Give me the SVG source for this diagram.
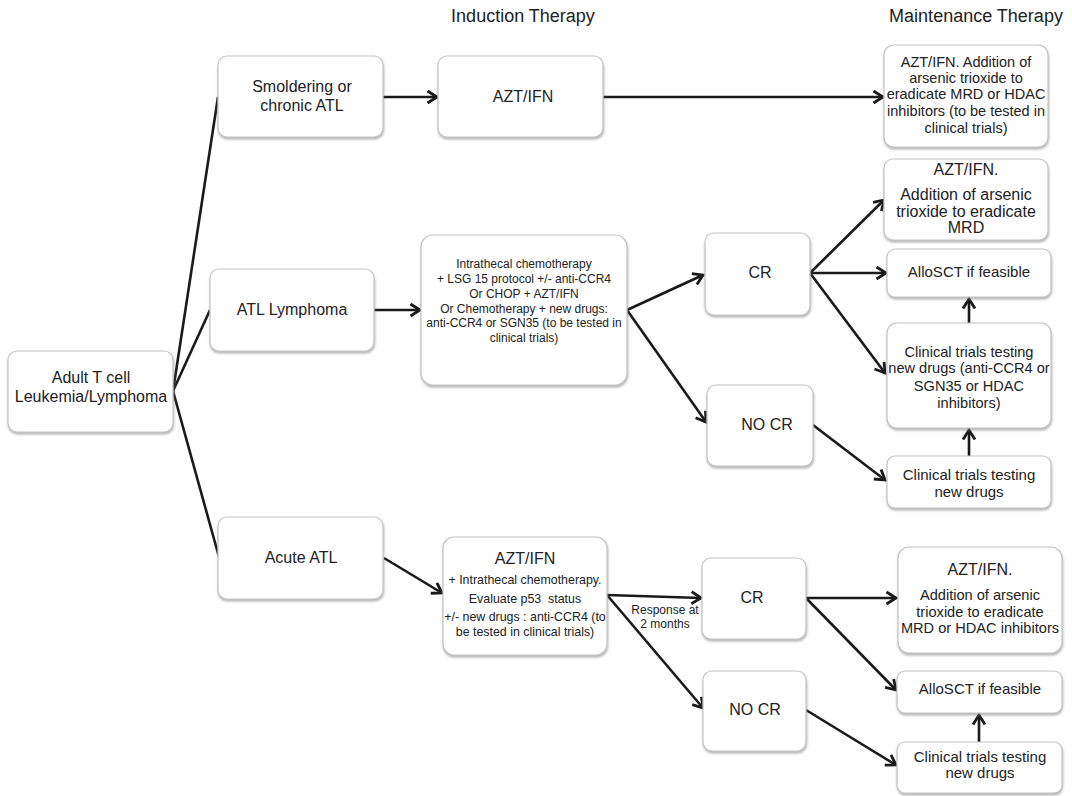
<svg xmlns="http://www.w3.org/2000/svg" width="1072" height="796" viewBox="0 0 1072 796">
  <style>
    text { font-family: "Liberation Sans", Arial, sans-serif; fill: #222; text-anchor: middle; }
    .box { fill: #fff; stroke: #c4c4c4; stroke-width: 1.2; filter: url(#shadow); }
    .head { font-size: 18px; }
    .f16 { font-size: 16px; }
    .f15 { font-size: 15px; }
    .f145 { font-size: 14.5px; }
    .f14 { font-size: 14.6px; }
    .f12 { font-size: 12px; }
    .f125 { font-size: 12.4px; }
    .link { stroke: #1a1a1a; stroke-width: 2.6; fill: none; }
    .arrow { marker-end: url(#chev); }
  </style>
  <defs>
    <filter id="shadow" x="-10%" y="-10%" width="125%" height="130%">
      <feDropShadow dx="0.5" dy="2" stdDeviation="1.3" flood-color="#777" flood-opacity="0.55"/>
    </filter>
    <marker id="chev" markerUnits="userSpaceOnUse" markerWidth="16" markerHeight="16" viewBox="0 0 16 16" refX="13" refY="8" orient="auto">
      <path d="M3.5,2 L13,8 L3.5,14" fill="none" stroke="#1a1a1a" stroke-width="2.8" stroke-linejoin="miter"/>
    </marker>
  </defs>

  <rect width="1072" height="796" fill="#fff"/>

  <!-- column headings -->
  <text class="head" x="523" y="22">Induction Therapy</text>
  <text class="head" x="976" y="22">Maintenance Therapy</text>

  <!-- connectors -->
  <g id="connectors">
    <line class="link" x1="173" y1="391" x2="218" y2="97"/>
    <line class="link" x1="173" y1="391" x2="210" y2="310"/>
    <line class="link" x1="173" y1="391" x2="219" y2="557"/>

    <line class="link arrow" x1="383" y1="97" x2="437" y2="97"/>
    <line class="link arrow" x1="603" y1="97" x2="883" y2="97"/>

    <line class="link arrow" x1="374" y1="310" x2="420" y2="310"/>
    <line class="link arrow" x1="627" y1="310" x2="703" y2="275"/>
    <line class="link arrow" x1="627" y1="310" x2="706" y2="422"/>
    <line class="link arrow" x1="810" y1="273" x2="884" y2="200"/>
    <line class="link arrow" x1="810" y1="273" x2="886" y2="273"/>
    <line class="link arrow" x1="810" y1="273" x2="885" y2="373"/>
    <line class="link arrow" x1="969" y1="323" x2="969" y2="299"/>
    <line class="link arrow" x1="969" y1="456" x2="969" y2="430"/>
    <line class="link arrow" x1="813" y1="425" x2="885" y2="480"/>

    <line class="link arrow" x1="384" y1="558" x2="442" y2="593"/>
    <line class="link arrow" x1="607" y1="595" x2="701" y2="598"/>
    <line class="link arrow" x1="607" y1="595" x2="703" y2="708"/>
    <line class="link arrow" x1="806" y1="598" x2="896" y2="598"/>
    <line class="link arrow" x1="806" y1="598" x2="896" y2="690"/>
    <line class="link arrow" x1="806" y1="710" x2="896" y2="765"/>
    <line class="link arrow" x1="979" y1="742" x2="979" y2="715"/>

    <text class="f12" x="665" y="614">Response at</text>
    <text class="f12" x="665" y="628">2 months</text>
  </g>

  <!-- disease subtypes -->
  <g id="adult">
    <rect class="box" x="8" y="351" width="165" height="81" rx="9"/>
    <text class="f16" x="91" y="383">Adult T cell</text>
    <text class="f16" x="91" y="402">Leukemia/Lymphoma</text>
  </g>
  <g id="smoldering">
    <rect class="box" x="218" y="56" width="165" height="81" rx="9"/>
    <text class="f16" x="302" y="92">Smoldering or</text>
    <text class="f16" x="302" y="111">chronic ATL</text>
  </g>
  <g id="lymphoma">
    <rect class="box" x="210" y="269" width="164" height="82" rx="9"/>
    <text class="f16" x="292" y="315">ATL Lymphoma</text>
  </g>
  <g id="acute">
    <rect class="box" x="218" y="517" width="165" height="82" rx="9"/>
    <text class="f16" x="301" y="563">Acute ATL</text>
  </g>

  <!-- induction therapy -->
  <g id="ind-smoldering">
    <rect class="box" x="438" y="56" width="165" height="81" rx="9"/>
    <text class="f16" x="523" y="102">AZT/IFN</text>
  </g>
  <g id="ind-lymphoma">
    <rect class="box" x="421" y="235" width="206" height="150" rx="12"/>
    <text class="f12" x="524" y="268">Intrathecal chemotherapy</text>
    <text class="f12" x="524" y="283">+ LSG 15 protocol +/- anti-CCR4</text>
    <text class="f12" x="524" y="298">Or CHOP + AZT/IFN</text>
    <text class="f12" x="524" y="313">Or Chemotherapy + new drugs:</text>
    <text class="f12" x="524" y="327">anti-CCR4 or SGN35 (to be tested in</text>
    <text class="f12" x="524" y="342">clinical trials)</text>
  </g>
  <g id="ind-acute">
    <rect class="box" x="443" y="537" width="164" height="118" rx="11"/>
    <text class="f16" x="525" y="564">AZT/IFN</text>
    <text class="f125" x="525" y="584">+ Intrathecal chemotherapy.</text>
    <text class="f125" x="525" y="603">Evaluate p53&#160; status</text>
    <text class="f125" x="525" y="621">+/- new drugs : anti-CCR4 (to</text>
    <text class="f125" x="525" y="636">be tested in clinical trials)</text>
  </g>

  <!-- response -->
  <g id="cr-lymphoma">
    <rect class="box" x="705" y="233" width="105" height="82" rx="9"/>
    <text class="f16" x="760" y="278">CR</text>
  </g>
  <g id="nocr-lymphoma">
    <rect class="box" x="707" y="385" width="106" height="81" rx="9"/>
    <text class="f16" x="767" y="430">NO CR</text>
  </g>
  <g id="cr-acute">
    <rect class="box" x="702" y="558" width="104" height="81" rx="9"/>
    <text class="f16" x="752" y="603">CR</text>
  </g>
  <g id="nocr-acute">
    <rect class="box" x="703" y="671" width="103" height="80" rx="9"/>
    <text class="f16" x="755" y="715">NO CR</text>
  </g>

  <!-- maintenance therapy -->
  <g id="mt-smoldering">
    <rect class="box" x="884" y="45" width="164" height="102" rx="10"/>
    <text class="f145" x="966" y="67">AZT/IFN. Addition of</text>
    <text class="f145" x="966" y="83">arsenic trioxide to</text>
    <text class="f145" x="966" y="99">eradicate MRD or HDAC</text>
    <text class="f145" x="966" y="116">inhibitors (to be tested in</text>
    <text class="f145" x="966" y="133">clinical trials)</text>
  </g>
  <g id="mt-lymphoma-cr">
    <rect class="box" x="884" y="159" width="164" height="81" rx="9"/>
    <text class="f16" x="966" y="175">AZT/IFN.</text>
    <text class="f16" x="966" y="200">Addition of arsenic</text>
    <text class="f16" x="966" y="217">trioxide to eradicate</text>
    <text class="f16" x="966" y="233">MRD</text>
  </g>
  <g id="allo-lymphoma">
    <rect class="box" x="887" y="249" width="164" height="48" rx="8"/>
    <text class="f15" x="969" y="277">AlloSCT if feasible</text>
  </g>
  <g id="trials-lymphoma-cr">
    <rect class="box" x="887" y="323" width="164" height="105" rx="10"/>
    <text class="f14" x="969" y="357">Clinical trials testing</text>
    <text class="f14" x="969" y="373">new drugs (anti-CCR4 or</text>
    <text class="f14" x="969" y="391">SGN35 or HDAC</text>
    <text class="f14" x="969" y="408">inhibitors)</text>
  </g>
  <g id="trials-lymphoma-nocr">
    <rect class="box" x="887" y="456" width="164" height="52" rx="8"/>
    <text class="f15" x="969" y="480">Clinical trials testing</text>
    <text class="f15" x="969" y="497">new drugs</text>
  </g>
  <g id="mt-acute-cr">
    <rect class="box" x="898" y="547" width="164" height="106" rx="11"/>
    <text class="f16" x="980" y="575">AZT/IFN.</text>
    <text class="f14" x="980" y="600">Addition of arsenic</text>
    <text class="f14" x="980" y="617">trioxide to eradicate</text>
    <text class="f14" x="980" y="633">MRD or HDAC inhibitors</text>
  </g>
  <g id="allo-acute">
    <rect class="box" x="897" y="671" width="165" height="42" rx="8"/>
    <text class="f15" x="980" y="694">AlloSCT if feasible</text>
  </g>
  <g id="trials-acute">
    <rect class="box" x="897" y="742" width="165" height="51" rx="8"/>
    <text class="f15" x="980" y="762">Clinical trials testing</text>
    <text class="f15" x="980" y="778">new drugs</text>
  </g>
</svg>
